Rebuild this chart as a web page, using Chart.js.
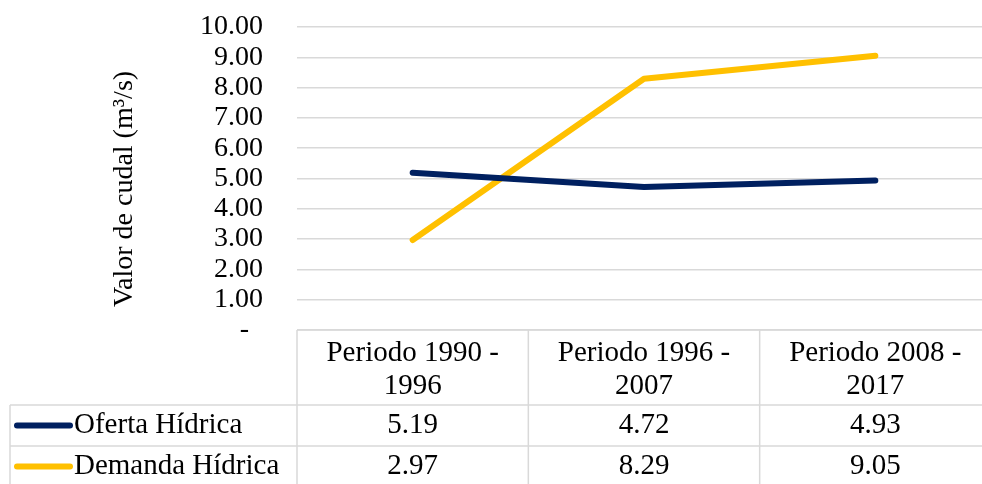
<!DOCTYPE html>
<html>
<head>
<meta charset="utf-8">
<script src="https://cdn.jsdelivr.net/npm/chart.js@4/dist/chart.umd.min.js"></script>
<style>
  html, body { margin: 0; padding: 0; background: #ffffff; overflow: hidden; }
  #wrap { width: 992px; height: 484px; }
</style>
</head>
<body>
<div id="wrap"><canvas id="c" width="992" height="484"></canvas></div>
<script>
const categories = [["Periodo 1990 -", "1996"], ["Periodo 1996 -", "2007"], ["Periodo 2008 -", "2017"]];
const seriesNames = ["Oferta Hídrica", "Demanda Hídrica"];
const ofertaHidrica = [5.19, 4.72, 4.93];
const demandaHidrica = [2.97, 8.29, 9.05];
const seriesColors = ["#002060", "#FFC000"];
const yTitle = "Valor de cudal (m³/s)";

const FONT = "'Liberation Serif', 'Times New Roman', serif";
const GRID = "#d9d9d9";

const tablePlugin = {
  id: 'dataTable',
  afterDraw(chart) {
    const ctx = chart.ctx;
    const ca = chart.chartArea;
    const xs = chart.scales.x;
    const n = categories.length;
    const colW = (ca.right - ca.left) / n;
    const tableLeft = 10;
    const headerTop = ca.bottom;
    const row1Top = 405;
    const rowH = 41;
    const bottom = row1Top + rowH * 2;
    ctx.save();
    ctx.strokeStyle = GRID;
    ctx.lineWidth = 1.5;
    ctx.beginPath();
    for (let i = 0; i <= n; i++) {
      const x = ca.left + i * colW;
      ctx.moveTo(x, headerTop);
      ctx.lineTo(x, bottom);
    }
    ctx.moveTo(tableLeft, row1Top);
    ctx.lineTo(tableLeft, bottom);
    ctx.moveTo(ca.left, headerTop);
    ctx.lineTo(ca.right, headerTop);
    for (let r = 0; r <= 2; r++) {
      const y = row1Top + r * rowH;
      ctx.moveTo(tableLeft, y);
      ctx.lineTo(ca.right, y);
    }
    ctx.stroke();

    ctx.fillStyle = "#000000";
    ctx.font = "29px " + FONT;
    ctx.textAlign = "center";
    ctx.textBaseline = "middle";
    categories.forEach((lines, i) => {
      const cx = xs.getPixelForValue(i);
      ctx.fillText(lines[0], cx, 353);
      ctx.fillText(lines[1], cx, 386);
    });
    const data = [ofertaHidrica, demandaHidrica];
    data.forEach((vals, r) => {
      const cy = row1Top + r * rowH + rowH / 2;
      vals.forEach((v, i) => {
        ctx.fillText(v.toFixed(2), xs.getPixelForValue(i), cy);
      });
      ctx.strokeStyle = seriesColors[r];
      ctx.lineWidth = 6;
      ctx.lineCap = "round";
      ctx.beginPath();
      ctx.moveTo(17, cy);
      ctx.lineTo(70, cy);
      ctx.stroke();
      ctx.textAlign = "left";
      ctx.fillText(seriesNames[r], 74, cy);
      ctx.textAlign = "center";
    });
    ctx.restore();
  }
};

new Chart(document.getElementById('c'), {
  type: 'line',
  data: {
    labels: categories.map(c => c.join(' ')),
    datasets: [
      { label: seriesNames[0], data: ofertaHidrica, borderColor: seriesColors[0], backgroundColor: seriesColors[0],
        borderWidth: 6, pointRadius: 0, borderCapStyle: 'round', borderJoinStyle: 'round', tension: 0 },
      { label: seriesNames[1], data: demandaHidrica, borderColor: seriesColors[1], backgroundColor: seriesColors[1],
        borderWidth: 6, pointRadius: 0, borderCapStyle: 'round', borderJoinStyle: 'round', tension: 0 }
    ]
  },
  options: {
    responsive: false,
    animation: false,
    layout: { padding: { top: 27, bottom: 154, left: 0, right: 1 } },
    plugins: { legend: { display: false }, tooltip: { enabled: false } },
    scales: {
      x: {
        display: false,
        offset: true
      },
      y: {
        min: 0, max: 10,
        afterFit(scale) { scale.width = 297; },
        border: { display: false },
        grid: { color: GRID, lineWidth: 1.5, drawTicks: true, tickLength: 34, tickColor: 'rgba(0,0,0,0)' },
        ticks: {
          stepSize: 1,
          autoSkip: false,
          padding: 0,
          color: "#000000",
          font: { family: FONT, size: 28 },
          callback: v => v === 0 ? "-  " : Number(v).toFixed(2)
        },
        title: {
          display: true,
          text: yTitle + "   ",
          color: "#000000",
          font: { family: FONT, size: 28 },
          padding: { top: 108, bottom: 0 }
        }
      }
    }
  },
  plugins: [tablePlugin]
});
</script>
</body>
</html>
